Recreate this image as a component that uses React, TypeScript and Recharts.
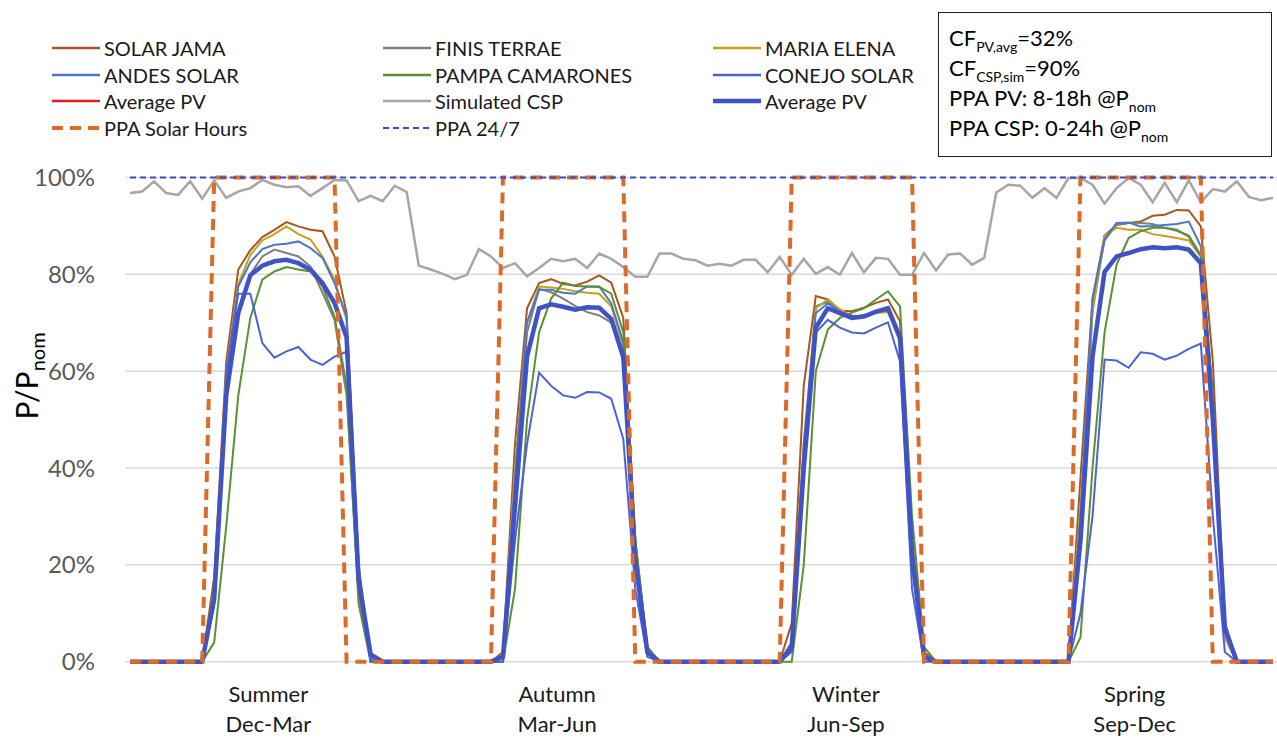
import { CartesianGrid, Line, LineChart, XAxis, YAxis } from "recharts";

const font = "Lato, 'Open Sans', sans-serif";

const seasonNames = ["Summer", "Autumn", "Winter", "Spring"];
const seasonMonths = ["Dec-Mar", "Mar-Jun", "Jun-Sep", "Sep-Dec"];
const seasonCenters = [11.5, 35.5, 59.5, 83.5];
const yTicks = [0, 20, 40, 60, 80, 100];

// hourly profiles (1..24h) per season: summer, autumn, winter, spring
const solarJama = [
  0, 0, 0, 0, 0, 0, 0, 17.5, 62, 81, 85, 87.7, 89.2, 90.8, 89.9, 89.2, 88.9, 83.7, 72, 20, 1, 0, 0, 0,
  0, 0, 0, 0, 0, 0, 0, 2, 45, 73, 78.2, 79, 78, 77.7, 78.5, 79.8, 78.3, 71, 25, 3, 0, 0, 0, 0,
  0, 0, 0, 0, 0, 0, 0, 8, 57, 75.5, 74.8, 72.5, 72.4, 73.1, 74.1, 74.8, 70.3, 25, 2, 0, 0, 0, 0, 0,
  0, 0, 0, 0, 0, 0, 0, 38, 75, 88, 90.2, 90.6, 90.9, 92.1, 92.3, 93.3, 93.2, 89.9, 62, 8, 0, 0, 0, 0,
];
const finisTerrae = [
  0, 0, 0, 0, 0, 0, 0, 12, 55, 72, 80, 83.7, 85.1, 84.4, 83.7, 81.6, 76.2, 70.6, 55, 14, 0, 0, 0, 0,
  0, 0, 0, 0, 0, 0, 0, 1, 35, 68, 77, 76.3, 75, 73.5, 72.2, 71.5, 70, 62, 20, 2, 0, 0, 0, 0,
  0, 0, 0, 0, 0, 0, 0, 3, 42, 73.4, 74.3, 72.5, 71.5, 71.3, 72.4, 72.8, 66, 20, 1, 0, 0, 0, 0, 0,
  0, 0, 0, 0, 0, 0, 0, 28, 73, 87, 90.3, 90.6, 90.6, 90.4, 89.6, 89, 88, 84, 50, 5, 0, 0, 0, 0,
];
const mariaElena = [
  0, 0, 0, 0, 0, 0, 0, 15, 60, 78, 84, 87, 88.3, 89.9, 88.3, 87.2, 83.7, 78.9, 70.6, 18, 0.5, 0, 0, 0,
  0, 0, 0, 0, 0, 0, 0, 1, 40, 70, 77.5, 77.3, 77, 76.5, 76.2, 76, 73.4, 65, 22, 2, 0, 0, 0, 0,
  0, 0, 0, 0, 0, 0, 0, 4, 45, 73, 74.8, 72.8, 71.2, 71.5, 72, 72.2, 66, 20, 1, 0, 0, 0, 0, 0,
  0, 0, 0, 0, 0, 0, 0, 32, 72, 88, 89.6, 89.2, 89.2, 88.3, 87.9, 87.5, 87, 83.7, 52, 5, 0, 0, 0, 0,
];
const andesSolar = [
  0, 0, 0, 0, 0, 0, 0, 13, 58, 77.5, 82.5, 85.2, 86.1, 86.3, 86.8, 85.4, 83.4, 78.2, 71.3, 18, 0.5, 0, 0, 0,
  0, 0, 0, 0, 0, 0, 0, 1, 38, 70, 76.8, 76.8, 76.2, 76, 77.5, 77.5, 74, 66, 22, 2, 0, 0, 0, 0,
  0, 0, 0, 0, 0, 0, 0, 4, 45, 72, 74, 72.3, 71.2, 71.6, 72.3, 72.6, 67, 22, 1, 0, 0, 0, 0, 0,
  0, 0, 0, 0, 0, 0, 0, 30, 75, 87.2, 90.6, 90.7, 89.9, 90, 90.2, 90.4, 90.9, 85.8, 55, 6, 0, 0, 0, 0,
];
const pampaCamarones = [
  0, 0, 0, 0, 0, 0, 0, 4, 28, 55, 71, 78.9, 80.6, 81.5, 81, 80.6, 77.5, 71.3, 57, 12, 0, 0, 0, 0,
  0, 0, 0, 0, 0, 0, 0, 0, 15, 50, 68, 75, 78.3, 77.6, 77.5, 77.4, 76, 68, 25, 3, 0, 0, 0, 0,
  0, 0, 0, 0, 0, 0, 0, 0, 20, 60, 68.6, 71, 72.1, 73, 74.8, 76.5, 73.4, 30, 3, 0, 0, 0, 0, 0,
  0, 0, 0, 0, 0, 0, 0, 5, 40, 68, 82, 87.5, 88.9, 89.6, 89.6, 89.2, 87.8, 83.7, 55, 8, 0, 0, 0, 0,
];
const conejoSolar = [
  0, 0, 0, 0, 0, 0, 0, 12, 60, 76, 76, 65.8, 62.8, 64.1, 65, 62.4, 61.3, 63, 64, 17, 0, 0, 0, 0,
  0, 0, 0, 0, 0, 0, 0, 0, 25, 45, 59.7, 57, 55, 54.5, 55.7, 55.6, 54.3, 46, 15, 1, 0, 0, 0, 0,
  0, 0, 0, 0, 0, 0, 0, 2, 40, 68, 70.6, 69, 68, 67.8, 69, 70.1, 62, 15, 0, 0, 0, 0, 0, 0,
  0, 0, 0, 0, 0, 0, 0, 10, 30, 62.4, 62.2, 60.7, 63.9, 63.6, 62.4, 63.2, 64.6, 65.7, 30, 2, 0, 0, 0, 0,
];
const averagePv = [
  0, 0, 0, 0, 0, 0, 0, 13, 55, 72, 79.8, 81.8, 82.7, 83, 82.3, 81, 78.2, 74.1, 67, 17, 1.5, 0, 0, 0,
  0, 0, 0, 0, 0, 0, 0, 1, 32, 63, 73, 73.8, 73.3, 72.7, 73.2, 73.1, 70.8, 63, 21, 2, 0, 0, 0, 0,
  0, 0, 0, 0, 0, 0, 0, 3, 40, 69, 73, 72, 71, 71.3, 72.3, 73, 67, 22, 1, 0, 0, 0, 0, 0,
  0, 0, 0, 0, 0, 0, 0, 25, 63, 80.5, 83.7, 84.4, 85.2, 85.6, 85.4, 85.6, 85.1, 82.3, 50, 7, 0, 0, 0, 0,
];
const simulatedCsp = [
  96.8, 97.1, 99.2, 96.8, 96.4, 99.2, 95.6, 99.4, 95.8, 97.1, 97.8, 99.5, 98.5, 98, 98.2, 96.2, 97.8, 99.5, 99.4, 95.1, 96.2, 95.1, 98.3, 97,
  81.8, 81, 80.1, 79, 79.9, 85.2, 83.7, 81.3, 82.3, 79.6, 81.3, 83.2, 82.7, 83.2, 81.3, 84.3, 83.2, 81.5, 79.5, 79.5, 84.3, 84.3, 83.2, 82.9,
  81.8, 82.2, 81.8, 83, 83, 80.4, 83.6, 79.9, 83.2, 80.1, 81.5, 79.9, 84.4, 80.4, 83.4, 83.2, 79.9, 79.9, 84.4, 80.8, 84.1, 84.3, 82, 83.4,
  96.9, 98.5, 98.3, 95.8, 97.8, 95.8, 99.9, 99.9, 98.5, 94.6, 97.8, 99.9, 98.5, 94.9, 98.9, 94.9, 99.4, 94.9, 97.6, 97.1, 99.2, 96, 95.3, 95.8,
];
const ppaSolarHours = [
  0, 0, 0, 0, 0, 0, 0, 100, 100, 100, 100, 100, 100, 100, 100, 100, 100, 100, 0, 0, 0, 0, 0, 0,
  0, 0, 0, 0, 0, 0, 0, 100, 100, 100, 100, 100, 100, 100, 100, 100, 100, 100, 0, 0, 0, 0, 0, 0,
  0, 0, 0, 0, 0, 0, 0, 100, 100, 100, 100, 100, 100, 100, 100, 100, 100, 100, 0, 0, 0, 0, 0, 0,
  0, 0, 0, 0, 0, 0, 0, 100, 100, 100, 100, 100, 100, 100, 100, 100, 100, 100, 0, 0, 0, 0, 0, 0,
];
const ppa247 = [
  100, 100, 100, 100, 100, 100, 100, 100, 100, 100, 100, 100, 100, 100, 100, 100, 100, 100, 100, 100, 100, 100, 100, 100,
  100, 100, 100, 100, 100, 100, 100, 100, 100, 100, 100, 100, 100, 100, 100, 100, 100, 100, 100, 100, 100, 100, 100, 100,
  100, 100, 100, 100, 100, 100, 100, 100, 100, 100, 100, 100, 100, 100, 100, 100, 100, 100, 100, 100, 100, 100, 100, 100,
  100, 100, 100, 100, 100, 100, 100, 100, 100, 100, 100, 100, 100, 100, 100, 100, 100, 100, 100, 100, 100, 100, 100, 100,
];

const series = [
  { key: "jama", name: "SOLAR JAMA", color: "#a9561e", width: 2 },
  { key: "finis", name: "FINIS TERRAE", color: "#7f7f7f", width: 2 },
  { key: "maria", name: "MARIA ELENA", color: "#c8a020", width: 2 },
  { key: "andes", name: "ANDES SOLAR", color: "#4a78c6", width: 2 },
  { key: "pampa", name: "PAMPA CAMARONES", color: "#5b9130", width: 2 },
  { key: "conejo", name: "CONEJO SOLAR", color: "#4c63d6", width: 2 },
  { key: "avgRed", name: "Average PV", color: "#e01b1b", width: 2 },
  { key: "csp", name: "Simulated CSP", color: "#a6a6a6", width: 2.5 },
  { key: "avgBlue", name: "Average PV", color: "#4053c6", width: 4.5 },
  { key: "ppaSolar", name: "PPA Solar Hours", color: "#db6b27", width: 4, dash: "11 7" },
  { key: "ppa247", name: "PPA 24/7", color: "#3a4cc0", width: 2, dash: "6 4" },
];

const chartData = averagePv.map((_, i) => ({
  x: i,
  jama: solarJama[i],
  finis: finisTerrae[i],
  maria: mariaElena[i],
  andes: andesSolar[i],
  pampa: pampaCamarones[i],
  conejo: conejoSolar[i],
  avgRed: averagePv[i],
  csp: simulatedCsp[i],
  avgBlue: averagePv[i],
  ppaSolar: ppaSolarHours[i],
  ppa247: ppa247[i],
}));

const legendCols = [52, 383, 713];
const legendRows = [48, 74.5, 101, 128];

function SeasonTick({ x, y, index }: { x?: number; y?: number; index?: number }) {
  const i = index ?? 0;
  return (
    <text x={x} y={y} textAnchor="middle" fill="#1a1a1a" fontSize={22} fontFamily={font}>
      <tspan x={x} dy={40}>
        {seasonNames[i]}
      </tspan>
      <tspan x={x} dy={30}>
        {seasonMonths[i]}
      </tspan>
    </text>
  );
}

function LegendOverlay() {
  return (
    <>
      {series.map((s, i) => {
        const col = i % 3;
        const row = Math.floor(i / 3);
        return (
          <div
            key={s.key}
            style={{
              position: "absolute",
              left: legendCols[col],
              top: legendRows[row] - 14,
              height: 28,
              display: "flex",
              alignItems: "center",
              gap: 4,
              fontSize: 20,
              color: "#1a1a1a",
              whiteSpace: "nowrap",
            }}
          >
            <svg width={48} height={10}>
              <line
                x1={0}
                x2={48}
                y1={5}
                y2={5}
                stroke={s.color}
                strokeWidth={s.dash ? s.width : Math.max(s.width, 2.5)}
                strokeDasharray={s.dash}
              />
            </svg>
            <span>{s.name}</span>
          </div>
        );
      })}
    </>
  );
}

const subStyle = { fontSize: 14, position: "relative", top: 6 } as const;
const boxLine = { height: 30, lineHeight: "30px" } as const;

export default function App() {
  return (
    <div
      style={{
        position: "absolute",
        left: 0,
        top: 0,
        width: 1277,
        height: 738,
        background: "#ffffff",
        fontFamily: font,
      }}
    >
      <LineChart
        width={1277}
        height={738}
        data={chartData}
        margin={{ top: 177.5, right: 0, bottom: 0, left: 0 }}
      >
        <CartesianGrid vertical={false} stroke="#d9d9d9" strokeWidth={1.5} />
        <XAxis
          dataKey="x"
          type="number"
          domain={[0, 95]}
          ticks={seasonCenters}
          interval={0}
          tick={<SeasonTick />}
          tickLine={false}
          axisLine={false}
          tickSize={0}
          tickMargin={0}
          height={76.3}
          padding={{ left: 5, right: 4 }}
        />
        <YAxis
          domain={[0, 100]}
          ticks={yTicks}
          tickFormatter={(v: number) => `${v}%`}
          tick={{ fill: "#595959", fontSize: 24, fontFamily: font }}
          tickLine={false}
          axisLine={false}
          tickSize={0}
          tickMargin={30}
          width={125}
        />
        {series.map((s) => (
          <Line
            key={s.key}
            type="linear"
            dataKey={s.key}
            name={s.name}
            stroke={s.color}
            strokeWidth={s.width}
            strokeDasharray={s.dash}
            dot={false}
            activeDot={false}
            isAnimationActive={false}
          />
        ))}
      </LineChart>

      <div
        style={{
          position: "absolute",
          left: 26,
          top: 376,
          transform: "translate(-50%, -50%) rotate(-90deg)",
          fontSize: 30,
          color: "#000",
          whiteSpace: "nowrap",
        }}
      >
        P/P<span style={{ fontSize: 20, position: "relative", top: 7 }}>nom</span>
      </div>

      <LegendOverlay />

      <div
        style={{
          position: "absolute",
          left: 938,
          top: 12,
          width: 334,
          height: 145,
          boxSizing: "border-box",
          border: "1.5px solid #222",
          padding: "10px 0 0 10px",
          fontSize: 22,
          color: "#000",
          whiteSpace: "nowrap",
        }}
      >
        <div style={boxLine}>
          CF<span style={subStyle}>PV,avg</span>=32%
        </div>
        <div style={boxLine}>
          CF<span style={subStyle}>CSP,sim</span>=90%
        </div>
        <div style={boxLine}>
          PPA PV: 8-18h @P<span style={subStyle}>nom</span>
        </div>
        <div style={boxLine}>
          PPA CSP: 0-24h @P<span style={subStyle}>nom</span>
        </div>
      </div>
    </div>
  );
}
